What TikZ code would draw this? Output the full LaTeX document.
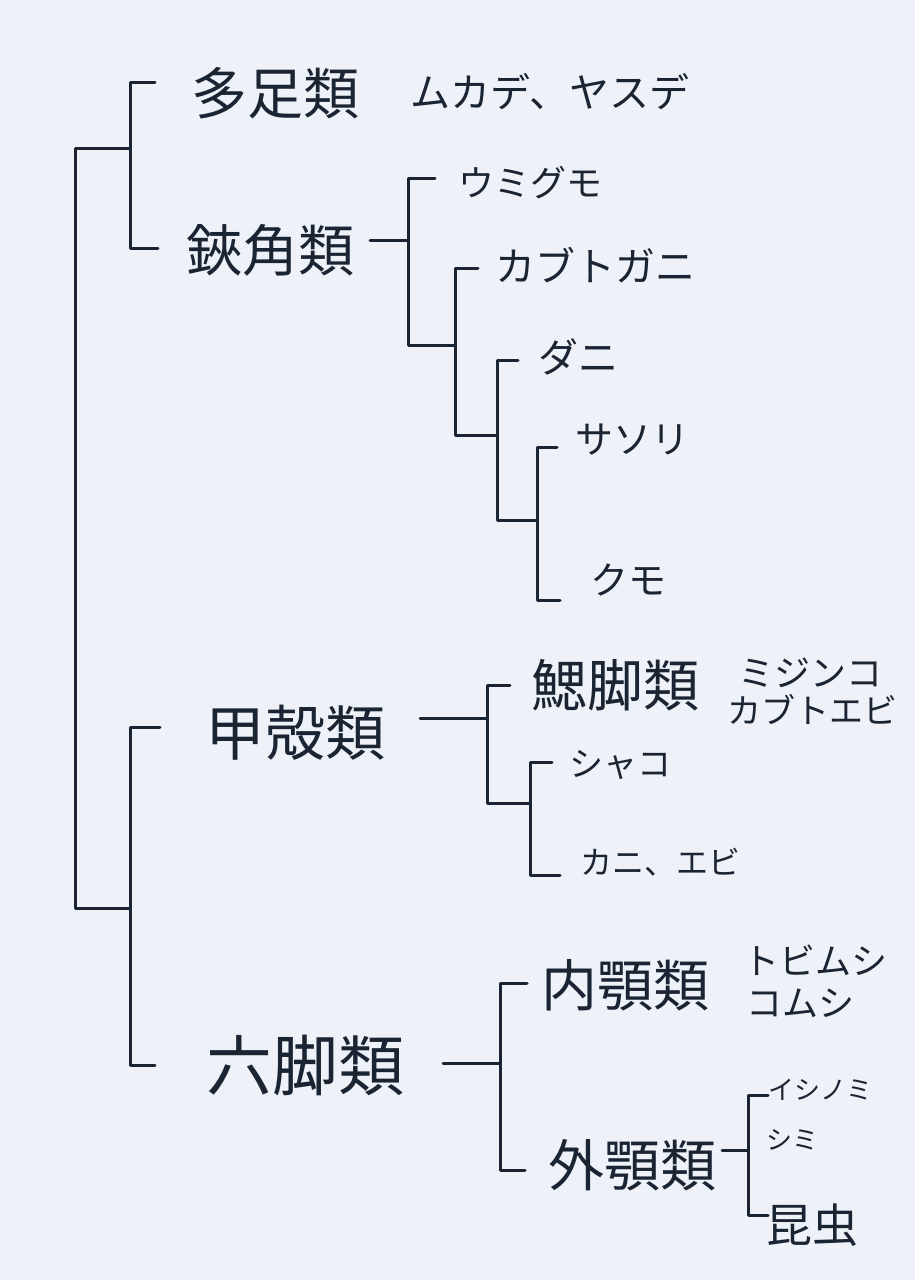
\documentclass[tikz,border=0pt]{standalone}
\usepackage{fontspec}
\setmainfont{Noto Sans CJK JP}
\definecolor{ink}{HTML}{1B2433}
\definecolor{paper}{HTML}{EEF2F8}
\begin{document}
\begin{tikzpicture}[x=1pt,y=-1pt,
  br/.style={draw=ink,line width=3pt,line join=round,line cap=round},
  lbl/.style={text=ink,inner sep=0pt,anchor=center,font=\fontsize{#1pt}{#1pt}\selectfont}]
\fill[paper] (0,0) rectangle (915,1280);
\useasboundingbox (0,0) rectangle (915,1280);

% labels
\node[lbl=56] (tasoku)   at (275,93)   {多足類};
\node[lbl=40] (mukade)   at (550,92)   {ムカデ、ヤスデ};
\node[lbl=56] (kyokaku)  at (270,250)  {鋏角類};
\node[lbl=36] (umigumo)  at (530,183)  {ウミグモ};
\node[lbl=40] (kabuto)   at (595,265)  {カブトガニ};
\node[lbl=40] (dani)     at (578,357)  {ダニ};
\node[lbl=38] (sasori)   at (632,440)  {サソリ};
\node[lbl=38] (kumo)     at (628,580)  {クモ};
\node[lbl=60] (kokaku)   at (295,733)  {甲殻類};
\node[lbl=56] (saikyaku) at (615,685)  {鰓脚類};
\node[lbl=36] (mijinko)  at (810,673)  {ミジンコ};
\node[lbl=34] (kabutoebi) at (812,710) {カブトエビ};
\node[lbl=34] (shako)    at (620,765)  {シャコ};
\node[lbl=32] (kani)     at (660,862)  {カニ、エビ};
\node[lbl=66] (rokkyaku) at (305,1065) {六脚類};
\node[lbl=56] (naigaku)  at (625,985)  {内顎類};
\node[lbl=36] (tobimushi) at (815,960) {トビムシ};
\node[lbl=36] (komushi)  at (800,1003) {コムシ};
\node[lbl=56] (gaigaku)  at (632,1165) {外顎類};
\node[lbl=26] (ishinomi) at (820,1090) {イシノミ};
\node[lbl=26] (shimi)    at (792,1140) {シミ};
\node[lbl=46] (konchu)   at (812,1225) {昆虫};

% junction / tick coordinates
\coordinate (tasoku-t)   at (155,82);
\coordinate (kyokaku-t)  at (158,248);
\coordinate (j-up)       at (130,148);
\coordinate (j-root)     at (75,528);
\coordinate (j-low)      at (130,908);
\coordinate (kokaku-t)   at (160,727);
\coordinate (rokkyaku-t) at (155,1065);

\coordinate (kyokaku-c)  at (370,240);
\coordinate (j-ch)       at (408,240);
\coordinate (umigumo-t)  at (435,178);
\coordinate (j-c2)       at (455,345);
\coordinate (kabuto-t)   at (478,268);
\coordinate (j-c3)       at (497,435);
\coordinate (dani-t)     at (518,360);
\coordinate (j-c4)       at (537,520);
\coordinate (sasori-t)   at (557,447);
\coordinate (kumo-t)     at (560,600);

\coordinate (kokaku-c)   at (420,718);
\coordinate (j-cr)       at (487,718);
\coordinate (saikyaku-t) at (510,685);
\coordinate (j-cr2)      at (530,803);
\coordinate (shako-t)    at (552,762);
\coordinate (kani-t)     at (560,875);

\coordinate (rokkyaku-c) at (443,1063);
\coordinate (j-hx)       at (500,1063);
\coordinate (naigaku-t)  at (527,983);
\coordinate (gaigaku-t)  at (525,1170);
\coordinate (gaigaku-c)  at (722,1150);
\coordinate (j-ex)       at (748,1150);
\coordinate (ishinomi-t) at (768,1095);
\coordinate (konchu-t)   at (768,1215);

% connectors
\draw[br] (j-up) -| (j-root) |- (j-low);
\draw[br] (tasoku-t) -| (j-up) |- (kyokaku-t);
\draw[br] (kokaku-t) -| (j-low) |- (rokkyaku-t);

\draw[br] (kyokaku-c) -- (j-ch);
\draw[br] (umigumo-t) -| (j-ch) |- (j-c2);
\draw[br] (kabuto-t) -| (j-c2) |- (j-c3);
\draw[br] (dani-t) -| (j-c3) |- (j-c4);
\draw[br] (sasori-t) -| (j-c4) |- (kumo-t);

\draw[br] (kokaku-c) -- (j-cr);
\draw[br] (saikyaku-t) -| (j-cr) |- (j-cr2);
\draw[br] (shako-t) -| (j-cr2) |- (kani-t);

\draw[br] (rokkyaku-c) -- (j-hx);
\draw[br] (naigaku-t) -| (j-hx) |- (gaigaku-t);
\draw[br] (gaigaku-c) -- (j-ex);
\draw[br] (ishinomi-t) -| (j-ex) |- (konchu-t);
\end{tikzpicture}
\end{document}
